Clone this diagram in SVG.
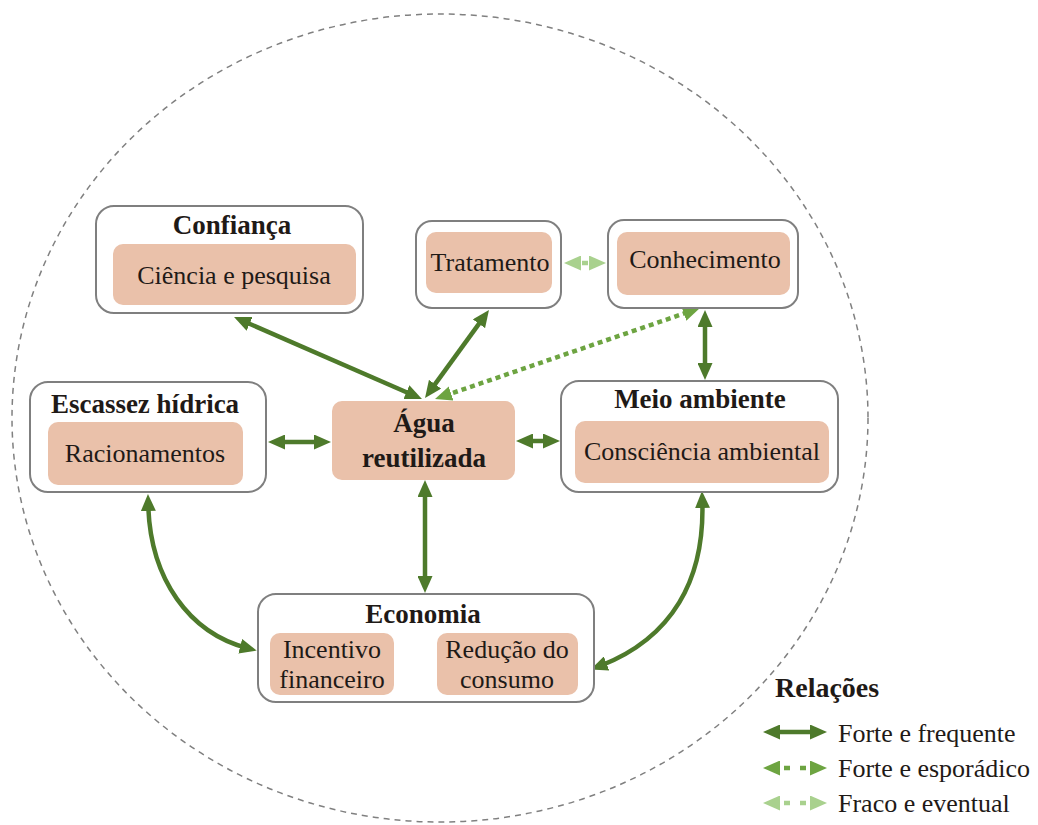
<svg xmlns="http://www.w3.org/2000/svg" width="1038" height="825" viewBox="0 0 1038 825">
<defs>
<style>
.outer{fill:#ffffff;stroke:#7f7f7f;stroke-width:2}
.inner{fill:#eac1aa;stroke:none}
.t{fill:#1f1a17;text-anchor:middle}
.r{font-size:26px}
.b{font-size:27px;font-weight:bold}
.solid{fill:none;stroke:#4e7a2b;stroke-width:4.5;marker-start:url(#hd);marker-end:url(#hd)}
.med{fill:none;stroke:#6da441;stroke-width:4.5;stroke-dasharray:5 4;marker-start:url(#hm);marker-end:url(#hm)}
.light{fill:none;stroke:#a9d18e;stroke-width:4.5;marker-start:url(#hl);marker-end:url(#hl)}
</style>
<marker id="hd" viewBox="0 0 17 15" markerWidth="17" markerHeight="15" refX="7" refY="7.5" markerUnits="userSpaceOnUse" orient="auto-start-reverse"><path d="M0,0 L17,7.5 L0,15 Z" fill="#4e7a2b"/></marker>
<marker id="hm" viewBox="0 0 17 15" markerWidth="17" markerHeight="15" refX="7" refY="7.5" markerUnits="userSpaceOnUse" orient="auto-start-reverse"><path d="M0,0 L17,7.5 L0,15 Z" fill="#6da441"/></marker>
<marker id="hl" viewBox="0 0 17 15" markerWidth="17" markerHeight="15" refX="7" refY="7.5" markerUnits="userSpaceOnUse" orient="auto-start-reverse"><path d="M0,0 L17,7.5 L0,15 Z" fill="#a9d18e"/></marker>
</defs>
<rect width="1038" height="825" fill="#ffffff"/>
<ellipse id="boundary" cx="440" cy="418" rx="428" ry="404" fill="none" stroke="#808080" stroke-width="1.5" stroke-dasharray="6 5"/>

<g id="connectors">
<path class="solid" d="M243.2,321 L412.8,395"/>
<path class="solid" d="M483.1,318.1 L430.9,389.9"/>
<path class="med" d="M444.5,395.8 L690.5,311.3"/>
<path class="solid" d="M705,320 L705,370"/>
<path class="solid" d="M278,442 L321,442"/>
<path class="solid" d="M526,441 L550,441"/>
<path class="solid" d="M425,490 L425,583"/>
<path class="solid" d="M148.2,504 C150,580 190,633 247,648"/>
<path class="solid" d="M702.3,501 C705,580 672,638 600,666"/>
<path class="solid" d="M404,666 L427,666"/>
<path class="light" style="stroke-dasharray:0 8 6 100" d="M574,263 L596,263"/>
</g>

<g font-family="'Liberation Serif', 'DejaVu Serif', 'Times New Roman', serif">
<g id="confianca">
<rect class="outer" x="96" y="206" width="267" height="107" rx="18"/>
<rect class="inner" x="113" y="244" width="243" height="61" rx="10"/>
<text class="t b" x="232" y="234">Confiança</text>
<text class="t r" x="234" y="284">Ciência e pesquisa</text>
</g>

<g id="tratamento">
<rect class="outer" x="416" y="221" width="145" height="87" rx="16"/>
<rect class="inner" x="426" y="232" width="126" height="61" rx="10"/>
<text class="t r" x="490" y="271">Tratamento</text>
</g>

<g id="conhecimento">
<rect class="outer" x="608" y="220" width="190" height="88" rx="16"/>
<rect class="inner" x="617" y="232" width="173" height="63" rx="10"/>
<text class="t r" x="705" y="268">Conhecimento</text>
</g>

<g id="escassez">
<rect class="outer" x="30" y="382" width="236" height="110" rx="18"/>
<rect class="inner" x="48" y="422" width="195" height="63" rx="10"/>
<text class="t b" x="145" y="413">Escassez hídrica</text>
<text class="t r" x="145" y="462">Racionamentos</text>
</g>

<g id="agua">
<rect class="inner" x="332" y="401" width="183" height="79" rx="10"/>
<text class="t b" x="424" y="432" font-size="28">Água</text>
<text class="t b" x="424" y="467" font-size="28">reutilizada</text>
</g>

<g id="meio-ambiente">
<rect class="outer" x="561" y="381" width="277" height="111" rx="18"/>
<rect class="inner" x="575" y="421" width="254" height="62" rx="10"/>
<text class="t b" x="700" y="408">Meio ambiente</text>
<text class="t r" x="702" y="460">Consciência ambiental</text>
</g>

<g id="economia">
<rect class="outer" x="258" y="594" width="336" height="108" rx="18"/>
<text class="t b" x="423" y="623">Economia</text>
<g id="incentivo">
<rect class="inner" x="270" y="633" width="124" height="62" rx="10"/>
<text class="t r" x="332" y="658">Incentivo</text>
<text class="t r" x="332" y="688">financeiro</text>
</g>
<g id="reducao">
<rect class="inner" x="437" y="633" width="141" height="62" rx="10"/>
<text class="t r" x="507" y="658">Redução do</text>
<text class="t r" x="507" y="688">consumo</text>
</g>
</g>

<g id="legend">
<text x="775" y="697" font-size="28" font-weight="bold" fill="#1f1a17">Relações</text>
<path class="solid" d="M773,732 L817,732"/>
<path class="med" style="stroke-dasharray:0 11 6 10 6 100" d="M773,768 L817,768"/>
<path class="light" style="stroke-dasharray:0 11 6 10 6 100" d="M773,803 L817,803"/>
<text x="838" y="742" font-size="26" fill="#1f1a17">Forte e frequente</text>
<text x="838" y="777" font-size="26" fill="#1f1a17">Forte e esporádico</text>
<text x="838" y="812" font-size="26" fill="#1f1a17">Fraco e eventual</text>
</g>
</g>
</svg>
